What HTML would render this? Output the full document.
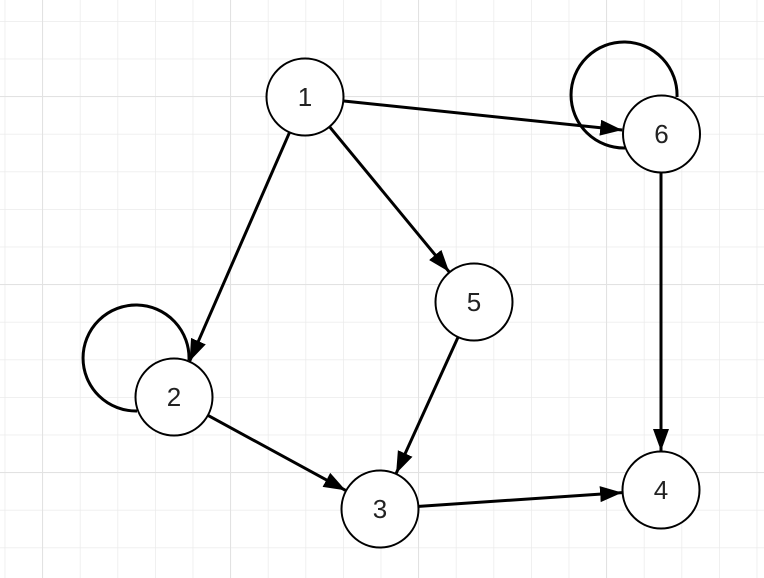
<!DOCTYPE html>
<html><head><style>
html,body{margin:0;padding:0;background:#fff;}
svg{display:block;}
</style></head><body>
<svg width="764" height="578" xmlns="http://www.w3.org/2000/svg">
<defs>
<pattern id="g" x="4.6" y="21" width="37.6" height="37.6" patternUnits="userSpaceOnUse">
<path d="M0 0V37.6M0 0H37.6" stroke="#ebebeb" stroke-width="1.5" fill="none"/>
</pattern>
<pattern id="G" x="42" y="96" width="188" height="188" patternUnits="userSpaceOnUse">
<path d="M0 0V188M0 0H188" stroke="#e2e2e2" stroke-width="2" fill="none"/>
</pattern>
<marker id="a" markerUnits="userSpaceOnUse" markerWidth="24" markerHeight="18" refX="22" refY="8" orient="auto">
<path d="M0,0 L22,8 L0,16 z" fill="#000"/>
</marker>
</defs>
<rect width="764" height="578" fill="url(#g)"/>
<rect width="764" height="578" fill="url(#G)"/>
<g stroke="#000" stroke-width="3" fill="none">
<path d="M137 411 A53 53 0 1 1 189 360"/>
<path d="M625 148 A53 53 0 1 1 677 97"/>
<line x1="343.8" y1="101" x2="622.2" y2="130" marker-end="url(#a)"/>
<line x1="289.4" y1="132.7" x2="189.6" y2="361.3" marker-end="url(#a)"/>
<line x1="329.8" y1="127.1" x2="449.2" y2="271.9" marker-end="url(#a)"/>
<line x1="457.9" y1="337.5" x2="396.1" y2="473.5" marker-end="url(#a)"/>
<line x1="208.3" y1="415.6" x2="345.7" y2="490.4" marker-end="url(#a)"/>
<line x1="418.9" y1="506.4" x2="622.1" y2="492.6" marker-end="url(#a)"/>
<line x1="661" y1="173" x2="661" y2="451" marker-end="url(#a)"/>
</g>
<g stroke="#000" stroke-width="2" fill="#fff">
<circle cx="305" cy="97" r="38.5"/>
<circle cx="661.5" cy="134" r="38.5"/>
<circle cx="474" cy="302" r="38.5"/>
<circle cx="174" cy="397" r="38.5"/>
<circle cx="380" cy="509" r="38.5"/>
<circle cx="661" cy="490" r="38.5"/>
</g>
<g font-family="Liberation Sans, sans-serif" font-size="26" text-anchor="middle" fill="#222">
<text x="305" y="106">1</text>
<text x="661.5" y="143">6</text>
<text x="474" y="311">5</text>
<text x="174" y="406">2</text>
<text x="380" y="518">3</text>
<text x="661" y="499">4</text>
</g>
</svg>
</body></html>
